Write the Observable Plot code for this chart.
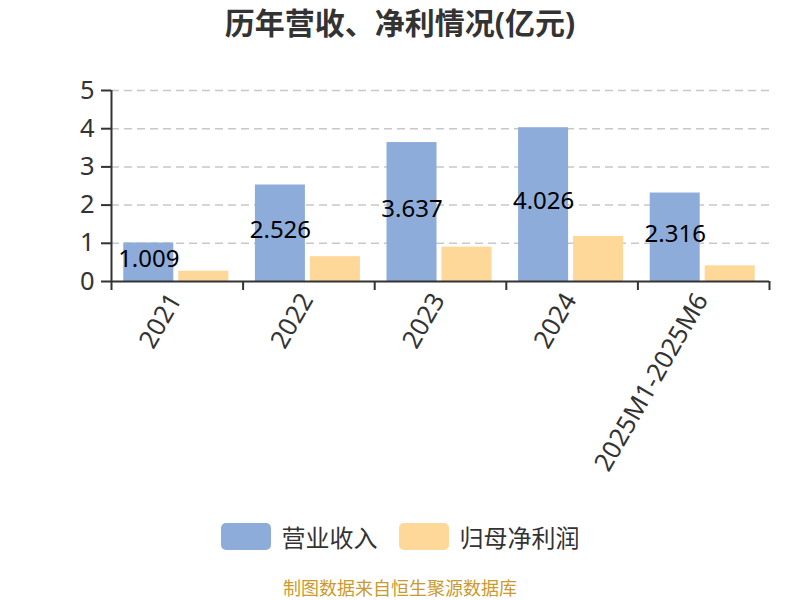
<!DOCTYPE html>
<html><head><meta charset="utf-8">
<script src="https://cdn.jsdelivr.net/npm/d3@7"></script>
<script src="https://cdn.jsdelivr.net/npm/@observablehq/plot@0.6"></script>
<style>
body{margin:0;background:#fff;font-family:"Noto Sans","Noto Sans CJK SC",sans-serif;}
#wrap{position:relative;width:800px;height:600px;overflow:hidden;}
#title{position:absolute;top:0;left:0;width:800px;height:50px;line-height:46px;text-align:center;font-size:30px;font-weight:bold;color:#333;}
#chart{position:absolute;top:50px;left:0;}
#legend{position:absolute;top:518px;left:0;width:800px;height:36px;display:flex;justify-content:center;align-items:center;font-size:24px;color:#333;}
.item{display:flex;align-items:center;}
.sw{width:50px;height:27px;border-radius:5px;margin-right:11px;}
#caption{position:absolute;top:576px;left:0;width:800px;text-align:center;font-size:18px;line-height:24px;color:#c99a2e;}
</style></head>
<body><div id="wrap">
<div id="title">历年营收、净利情况(亿元)</div>
<div id="chart"></div>
<div id="legend"></div>
<div id="caption">制图数据来自恒生聚源数据库</div>
</div>
<script>
const categories = ["2021", "2022", "2023", "2024", "2025M1-2025M6"];
const revenue = [1.009, 2.526, 3.637, 4.026, 2.316];
const profit = [0.27, 0.65, 0.90, 1.18, 0.41];
const seriesNames = ["营业收入", "归母净利润"];
const seriesColors = ["#8eacd9", "#fed898"];
const yTicks = [0, 1, 2, 3, 4, 5];

const n = categories.length;
const rows = categories.map((c, i) => ({i, c, revenue: revenue[i], profit: profit[i]}));
const font = '"Noto Sans","Noto Sans CJK SC",sans-serif';

const chart = Plot.plot({
  width: 800, height: 450,
  marginLeft: 111, marginRight: 31, marginTop: 40, marginBottom: 219,
  style: {fontFamily: font, fontSize: "24px", color: "#333", background: "transparent", overflow: "visible"},
  x: {domain: [0, n], label: null, axis: null},
  y: {domain: [0, 5], label: null, axis: null},
  marks: [
    Plot.gridY(yTicks.slice(1), {stroke: "#c8c8c8", strokeOpacity: 1, strokeWidth: 1.5, strokeDasharray: "8,5"}),
    Plot.rectY(rows, {x1: "i", x2: d => d.i + 1, y: "revenue", fill: seriesColors[0], insetLeft: 12.3, insetRight: 69.3}),
    Plot.rectY(rows, {x1: "i", x2: d => d.i + 1, y: "profit", fill: seriesColors[1], insetLeft: 67.3, insetRight: 14.3}),
    Plot.text(rows, {x: d => d.i + 0.5, y: d => d.revenue / 2, text: d => d.revenue.toFixed(3), dx: -28.5, dy: -3, fill: "#000", fontSize: 24}),
    Plot.ruleY([0], {stroke: "#333", strokeWidth: 2}),
    Plot.ruleX([0], {stroke: "#333", strokeWidth: 2}),
    Plot.axisY(yTicks, {tickSize: 10, tickPadding: 7, strokeWidth: 2, color: "#333", fontSize: 25.5, label: null}),
    Plot.axisX(d3.range(n + 1), {tickSize: 9, strokeWidth: 2, color: "#333", tickFormat: () => "", label: null}),
    Plot.axisX(d3.range(n).map(i => i + 0.5), {tickSize: 0, tickPadding: 14, dx: -2, tickRotate: -60, color: "#333", fontSize: 25.5, label: null, tickFormat: v => categories[Math.floor(v)]})
  ]
});
document.getElementById("chart").appendChild(chart);

const legend = document.getElementById("legend");
seriesNames.forEach((name, k) => {
  const it = document.createElement("div");
  it.className = "item";
  if (k > 0) it.style.marginLeft = "21px";
  const sw = document.createElement("div");
  sw.className = "sw";
  sw.style.background = seriesColors[k];
  const tx = document.createElement("span");
  tx.textContent = name;
  it.appendChild(sw); it.appendChild(tx);
  legend.appendChild(it);
});
</script>
</body></html>
